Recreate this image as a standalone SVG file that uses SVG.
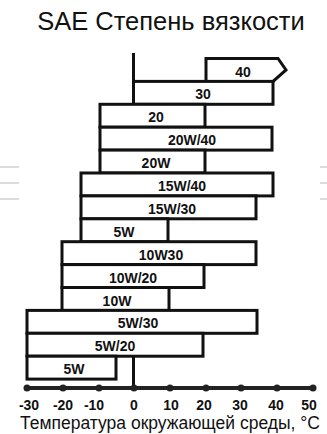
<svg xmlns="http://www.w3.org/2000/svg" width="327" height="434" viewBox="0 0 327 434">
<style>
.bar{fill:#fff;stroke:#111;stroke-width:3;stroke-linejoin:miter}
.lbl{font-family:"Liberation Sans",Arial,sans-serif;font-weight:bold;font-size:14px;fill:#111;text-anchor:middle}
.tick{font-family:"Liberation Sans",Arial,sans-serif;font-weight:bold;font-size:14px;fill:#111;text-anchor:middle}
.cap{font-family:"Liberation Sans",Arial,sans-serif;font-size:17.5px;fill:#111;text-anchor:middle}
.ttl{font-family:"Liberation Sans",Arial,sans-serif;font-size:25.5px;fill:#111;text-anchor:middle}
.faint{stroke:#ddd;stroke-width:2}
.dot{fill:#222}
</style>
<rect width="327" height="434" fill="#fff"/>
<g id="decor">
<line class="faint" x1="0" y1="167" x2="19" y2="167"/>
<line class="faint" x1="0" y1="183" x2="19" y2="183"/>
<line class="faint" x1="0" y1="199" x2="19" y2="199"/>
<line class="faint" x1="320" y1="167" x2="327" y2="167"/>
<line class="faint" x1="320" y1="183" x2="327" y2="183"/>
<line class="faint" x1="320" y1="199" x2="327" y2="199"/>
</g>
<text id="title" class="ttl" x="171" y="30">SAE Степень вязкости</text>
<g id="connectors">
<line x1="133.5" y1="53" x2="133.5" y2="388" stroke="#111" stroke-width="3"/>
<line x1="26" y1="388" x2="313" y2="388" stroke="#222" stroke-width="4"/>
<circle class="dot" cx="27" cy="388" r="3.5"/>
<circle class="dot" cx="63" cy="388" r="3.5"/>
<circle class="dot" cx="99" cy="388" r="3.5"/>
<circle class="dot" cx="134" cy="388" r="3.5"/>
<circle class="dot" cx="170" cy="388" r="3.5"/>
<circle class="dot" cx="206" cy="388" r="3.5"/>
<circle class="dot" cx="241" cy="388" r="3.5"/>
<circle class="dot" cx="277" cy="388" r="3.5"/>
<circle class="dot" cx="313" cy="388" r="3.5"/>
</g>
<g id="n40"><path class="bar" d="M206,58.5 H278 L286,70 L273,81.4 H206 Z"/><text class="lbl" x="243" y="76.5">40</text></g>
<g id="n30"><rect class="bar" x="133.5" y="81.4" width="139.5" height="22.9"/><text class="lbl" x="203" y="99.4">30</text></g>
<g id="n20"><rect class="bar" x="100" y="104.3" width="105" height="22.9"/><text class="lbl" x="156" y="122.3">20</text></g>
<g id="n20w40"><rect class="bar" x="100" y="127.2" width="172" height="22.9"/><text class="lbl" x="192" y="145.2">20W/40</text></g>
<g id="n20w"><rect class="bar" x="100" y="150.1" width="105" height="22.9"/><text class="lbl" x="156" y="168.1">20W</text></g>
<g id="n15w40"><rect class="bar" x="81" y="173" width="192" height="22.9"/><text class="lbl" x="182" y="191">15W/40</text></g>
<g id="n15w30"><rect class="bar" x="81" y="195.9" width="175" height="22.9"/><text class="lbl" x="172" y="213.9">15W/30</text></g>
<g id="n5w_a"><rect class="bar" x="81" y="218.8" width="87" height="22.9"/><text class="lbl" x="124" y="236.8">5W</text></g>
<g id="n10w30"><rect class="bar" x="62" y="241.7" width="194" height="22.9"/><text class="lbl" x="161" y="259.7">10W30</text></g>
<g id="n10w20"><rect class="bar" x="62" y="264.6" width="142" height="22.9"/><text class="lbl" x="133" y="282.6">10W/20</text></g>
<g id="n10w"><rect class="bar" x="62" y="287.5" width="107" height="22.9"/><text class="lbl" x="117" y="305.5">10W</text></g>
<g id="n5w30"><rect class="bar" x="27" y="310.4" width="230" height="22.9"/><text class="lbl" x="138" y="328.4">5W/30</text></g>
<g id="n5w20"><rect class="bar" x="27" y="333.3" width="176" height="22.9"/><text class="lbl" x="115" y="351.3">5W/20</text></g>
<g id="n5w_b"><rect class="bar" x="27" y="356.2" width="89" height="22.9"/><text class="lbl" x="74" y="374.2">5W</text></g>
<g id="ticks">
<text class="tick" x="29" y="410">-30</text>
<text class="tick" x="63" y="410">-20</text>
<text class="tick" x="94" y="410">-10</text>
<text class="tick" x="134" y="410">0</text>
<text class="tick" x="171" y="410">10</text>
<text class="tick" x="204" y="410">20</text>
<text class="tick" x="240" y="410">30</text>
<text class="tick" x="276" y="410">40</text>
<text class="tick" x="309" y="410">50</text>
</g>
<text id="caption" class="cap" x="170" y="429">Температура окружающей среды, °C</text>
</svg>
